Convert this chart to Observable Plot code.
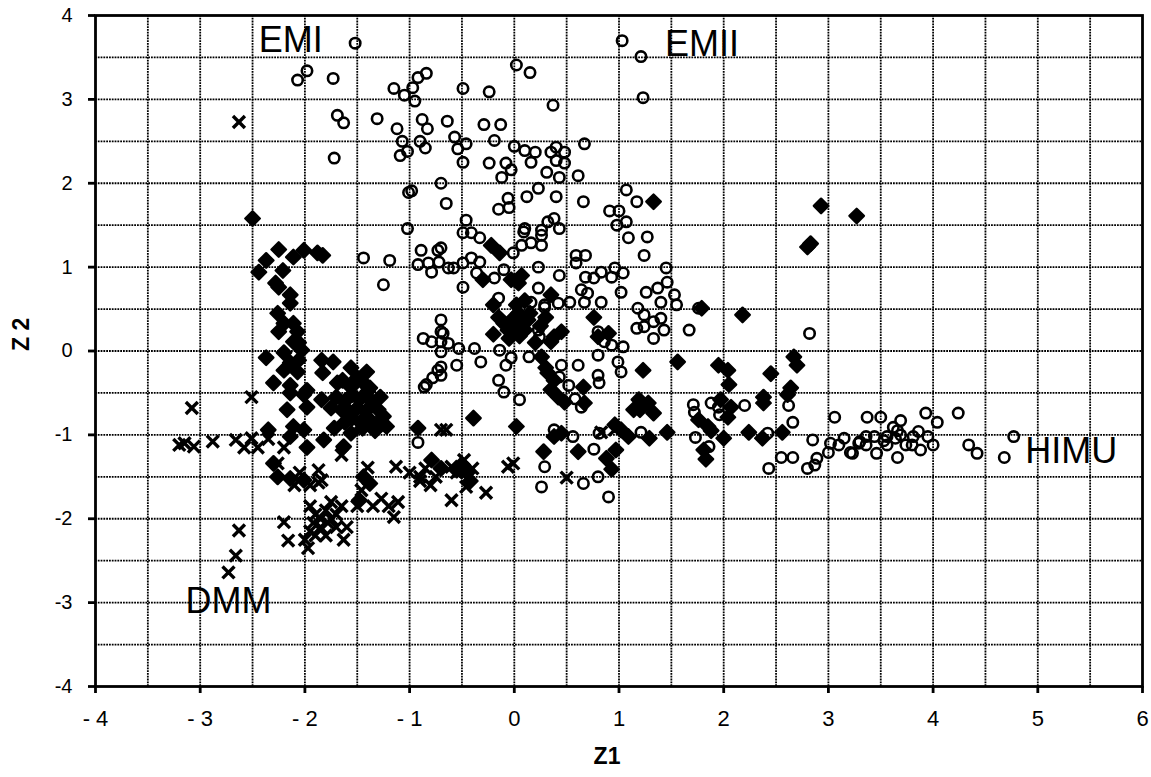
<!DOCTYPE html>
<html><head><meta charset="utf-8">
<script src="https://cdn.jsdelivr.net/npm/d3@7"></script>
<script src="https://cdn.jsdelivr.net/npm/@observablehq/plot@0.6"></script>
<style>body{margin:0;background:#fff}</style>
</head><body><div id="chart"></div>
<script>
// tick values and labels
const xTicks = [-4,-3,-2,-1,0,1,2,3,4,5,6];
const xTickLabels = ["- 4","- 3","- 2","- 1","0","1","2","3","4","5","6"];
const yTicks = [-4,-3,-2,-1,0,1,2,3,4];
const yTickLabels = ["-4","-3","-2","-1","0","1","2","3","4"];
const gridX = [-3.5,-3,-2.5,-2,-1.5,-1,-0.5,0,0.5,1,1.5,2,2.5,3,3.5,4,4.5,5,5.5];
const gridY = [-3.5,-3,-2.5,-2,-1.5,-1,-0.5,0,0.5,1,1.5,2,2.5,3,3.5];

// end-member labels
const labelNames = ["EMI","EMII","HIMU","DMM"];
const labelX = [-2.44, 1.44, 4.88, -3.14];
const labelY = [3.56, 3.52, -1.34, -3.12];

// open circles (Z1, Z2)
const openPts = [
[-1.52,3.67],[-2.07,3.23],[-1.98,3.34],[-1.73,3.25],[-1.69,2.81],[-1.63,2.72],[-1.72,2.30],
[-1.31,2.77],[-1.15,3.13],[-1.05,3.05],[-1.12,2.65],[-1.07,2.50],[-1.02,2.38],[-1.09,2.33],[-0.92,3.26],[-0.84,3.31],[-0.97,3.14],[-0.95,2.98],[-0.88,2.76],[-0.83,2.65],[-0.90,2.50],[-0.85,2.42],
[-0.64,2.74],[-0.29,2.70],[-0.13,2.70],[-0.57,2.55],[-0.54,2.41],[-0.46,2.47],[-0.19,2.51],
[-0.49,3.13],[-0.24,3.09],[0.02,3.41],[0.15,3.32],[0.37,2.93],[0.67,2.47],
[1.03,3.70],[1.21,3.51],[1.23,3.02],
[0.0,2.44],[0.10,2.39],[0.20,2.37],[0.16,2.25],[0.35,2.37],[0.40,2.43],[0.48,2.37],[0.48,2.24],[0.40,2.27],[0.31,2.13],[0.43,2.07],[0.61,2.09],
[-0.08,2.24],[-0.03,2.16],[-0.12,2.07],[-0.24,2.24],[-0.49,2.25],
[-0.70,2.0],[-0.65,1.76],[-1.01,1.89],[-0.98,1.91],[-1.02,1.46],
[-0.06,1.82],[-0.15,1.69],[-0.05,1.71],[0.12,1.84],[0.23,1.94],[0.40,1.84],[0.66,1.78],
[1.07,1.92],[1.17,1.78],[0.91,1.67],[1.0,1.67],[0.98,1.50],[1.07,1.54],[1.09,1.35],[1.27,1.36],
[-0.46,1.56],[-0.49,1.41],[-0.41,1.41],[-0.33,1.35],
[0.10,1.46],[0.26,1.44],[0.32,1.54],[0.38,1.58],[0.43,1.46],[0.09,1.42],[0.26,1.38],
[1.24,1.14],[-0.70,1.23],[-0.41,1.11],[-0.33,1.06],[-0.49,1.05],[-0.58,0.99],[-0.36,0.93],[-0.19,0.87],[-0.10,0.97],[-0.01,1.17],[0.07,1.26],[0.16,1.29],[0.26,1.26],
[-0.49,0.76],[-0.15,0.63],[0.23,1.0],[0.43,0.9],[0.23,0.75],[0.16,0.58],[0.29,0.55],[0.42,0.57],[0.53,0.58],
[0.59,1.14],[0.68,1.14],[0.59,1.05],[0.68,0.88],[0.76,0.87],[0.83,0.94],[0.96,0.99],[1.04,0.93],[0.93,0.88],
[0.64,0.73],[0.70,0.69],[0.83,0.58],[0.67,0.58],[1.02,0.70],
[1.45,0.99],[1.46,0.82],[1.26,0.70],[1.37,0.75],[1.53,0.67],[1.55,0.55],[1.40,0.58],
[1.18,0.51],[1.24,0.43],[1.40,0.39],[1.33,0.35],[1.17,0.27],[1.24,0.29],[1.43,0.25],[1.33,0.15],
[1.76,0.51],[1.67,0.25],[2.82,0.21],
[-0.70,0.37],[-0.70,0.23],[-0.63,0.09],[-0.53,0.03],[-0.38,0.03],[-0.32,-0.13],[-0.55,-0.17],[-0.70,-0.19],[-0.70,-0.29],
[-0.14,0.01],[-0.03,-0.08],[-0.08,-0.17],[-0.15,-0.35],[-0.10,-0.49],[0.05,-0.58],[0.14,-0.07],[0.24,0.17],[0.23,0.25],[0.29,0.52],
[0.45,-0.17],[0.43,-0.31],[0.52,-0.41],[0.61,-0.17],[0.80,-0.05],[0.80,-0.29],[0.81,-0.38],[0.99,-0.13],[1.02,-0.25],[1.04,0.05],[0.86,0.11],[0.80,0.23],[0.93,0.07],
[0.64,-0.67],[0.58,-0.57],[0.38,-0.94],[0.56,-1.02],[0.76,-1.17],[0.81,-0.98],[1.21,-0.97],[0.29,-1.38],[0.26,-1.62],[0.66,-1.58],[0.90,-1.74],[0.80,-1.50],
[1.71,-0.64],[1.88,-0.62],[1.95,-0.67],[1.72,-0.73],[1.96,-0.76],[1.73,-1.03],[1.86,-1.14],
[2.20,-0.65],[2.62,-0.65],[2.66,-0.85],[3.06,-0.79],[2.42,-0.98],[2.85,-1.06],[3.02,-1.10],[3.10,-1.12],[3.15,-1.04],[3.21,-1.21],[3.0,-1.21],[2.55,-1.27],[2.66,-1.27],[2.43,-1.40],[2.80,-1.40],[2.87,-1.36],[2.89,-1.28],
[3.37,-0.79],[3.50,-0.79],[3.69,-0.83],[3.62,-0.91],[3.93,-0.74],[4.04,-0.85],[4.24,-0.74],
[3.30,-1.08],[3.36,-1.02],[3.44,-1.02],[3.36,-1.12],[3.46,-1.22],[3.56,-1.12],[3.56,-1.02],[3.66,-1.27],[3.69,-1.0],[3.74,-1.12],[3.81,-1.02],[3.86,-0.96],[3.95,-1.02],[3.88,-1.18],[4.0,-1.12],[3.80,-1.12],[3.23,-1.22],[3.29,-1.10],[3.53,-1.07],[3.64,-1.04],[3.66,-0.95],
[4.34,-1.12],[4.42,-1.22],[4.68,-1.27],[4.77,-1.02],
[-1.44,1.11],[-1.19,1.08],[-1.25,0.79],[-0.89,1.20],[-0.73,1.20],[-0.92,1.03],[-0.82,1.05],[-0.79,0.94],[-0.72,1.06],[-0.63,0.99],
[-0.68,0.21],[-0.70,0.11],[-0.70,-0.01],[-0.87,0.15],[-0.79,0.11],[-0.73,-0.23],[-0.78,-0.32],[-0.86,-0.43],[-0.84,-0.40],[-0.92,-1.09]
];

// filled symbols
const filledPts = [
[-2.50,1.58],[-2.25,1.21],[-2.37,1.08],[-2.44,0.94],[-2.21,0.96],[-2.28,0.81],[-2.25,0.76],[-2.14,0.67],[-2.11,1.12],[-2.01,1.20],[-1.88,1.17],[-1.83,1.14],
[-2.14,0.57],[-2.26,0.45],[-2.20,0.33],[-2.11,0.33],[-2.07,0.23],[-2.25,0.23],[-2.11,0.11],[-2.06,0.10],[-2.03,0.01],
[-2.37,-0.08],[-2.20,-0.02],[-2.14,-0.14],[-2.06,-0.11],[-2.20,-0.23],[-2.07,-0.25],[-2.30,-0.38],[-2.14,-0.41],[-1.98,-0.47],
[-1.84,-0.11],[-1.73,-0.13],[-1.83,-0.26],[-1.56,-0.20],[-1.64,-0.35],[-1.50,-0.32],[-1.44,-0.38],[-1.41,-0.25],[-1.69,-0.38],[-1.56,-0.43],[-1.38,-0.44],
[-2.14,-0.50],[-2.01,-0.52],[-2.17,-0.70],[-1.98,-0.67],[-1.84,-0.58],
[-1.70,-0.55],[-1.62,-0.60],[-1.55,-0.52],[-1.48,-0.58],[-1.40,-0.55],[-1.35,-0.62],[-1.65,-0.70],[-1.58,-0.72],[-1.50,-0.68],[-1.42,-0.72],[-1.30,-0.70],[-1.25,-0.78],[-1.55,-0.80],[-1.47,-0.85],[-1.38,-0.82],[-1.30,-0.88],[-1.62,-0.85],[-1.75,-0.68],[-1.22,-0.90],[-1.33,-0.95],[-1.45,-0.92],[-1.40,-0.48],[-1.28,-0.55],
[-2.35,-0.94],[-2.11,-0.90],[-2.01,-0.94],[-2.14,-1.02],[-1.98,-1.15],[-1.82,-1.06],[-1.72,-0.92],[-1.56,-0.98],[-1.63,-1.14],
[-2.30,-1.34],[-2.26,-1.50],[-2.14,-1.52],[-2.01,-1.54],[-1.44,-1.50],[-1.38,-1.58],[-1.48,-1.78],
[-0.92,-0.92],[-0.79,-1.30],[-0.70,-1.40],[-0.55,-1.42],[-0.45,-1.45],[-0.50,-1.35],[-0.42,-1.55],
[-0.22,1.26],[-0.14,1.17],[-0.03,0.85],[0.07,0.90],[0.04,0.81],[-0.30,0.85],
[-0.10,0.33],[-0.01,0.39],[0.04,0.45],[-0.06,0.25],[0.07,0.31],[0.13,0.37],[0.0,0.25],[0.10,0.25],[-0.05,0.15],[0.05,0.18],[0.15,0.45],[0.02,0.55],[-0.20,0.20],[-0.15,0.40],[0.20,0.10],[0.25,0.30],[0.30,0.40],[-0.20,0.55],[0.10,0.60],
[0.35,0.67],[0.38,0.17],[0.45,0.23],[0.35,0.11],[0.26,-0.07],[0.32,-0.26],[0.38,-0.35],[0.35,-0.46],[0.48,-0.61],[0.66,-0.43],[0.67,-0.62],[0.76,0.40],[0.90,0.21],[0.80,0.17],[0.30,-0.20],[0.42,-0.55],
[1.23,-0.23],[1.56,-0.13],[1.19,-0.58],[1.20,-0.70],[1.28,-0.62],[1.14,-0.70],[1.33,-0.74],
[-0.39,-0.80],[0.02,-0.90],[0.38,-1.02],[0.45,-0.98],[0.96,-0.88],[1.02,-0.94],[1.09,-1.02],[1.29,-1.04],[1.46,-0.97],
[0.28,-1.20],[0.61,-1.20],[0.88,-1.28],[0.97,-1.18],[0.93,-1.41],
[1.81,-1.18],[1.83,-1.29],[1.95,-0.17],[2.04,-0.23],[2.05,-0.40],[1.76,-0.82],[1.85,-0.90],[2.0,-1.04],[1.97,-0.58],[2.07,-0.67],
[2.80,1.24],[2.83,1.28],[2.93,1.73],[3.27,1.61],[2.18,0.43],[1.79,0.51],[2.67,-0.07],[2.70,-0.17],[2.45,-0.27],[2.64,-0.44],[2.61,-0.52],[2.38,-0.55],[2.38,-0.62],[2.04,-0.79],[2.24,-0.97],[2.37,-1.04],[2.56,-0.97],[1.88,-0.95],
[1.33,1.78]
];

// crosses
const crossPts = [
[-2.63,2.73],[-3.08,-0.68],[-2.51,-0.55],[-3.15,-1.10],[-3.06,-1.14],[-3.20,-1.12],[-2.88,-1.08],[-2.66,-1.06],[-2.58,-1.15],[-2.51,-1.04],[-2.45,-1.15],[-2.20,-1.15],[-2.26,-1.34],[-2.35,-1.05],
[-1.87,-1.42],[-1.84,-1.54],[-1.65,-1.24],[-1.40,-1.39],[-1.13,-1.38],[-1.46,-1.66],[-1.27,-1.76],[-1.11,-1.80],[-1.15,-1.98],[-1.87,-1.57],[-2.20,-2.04],[-2.16,-2.26],[-1.63,-2.25],[-2.63,-2.14],[-2.66,-2.44],[-2.73,-2.64],
[-1.95,-1.85],[-1.90,-1.95],[-1.85,-2.00],[-1.80,-1.90],[-1.75,-2.00],[-1.70,-1.95],[-1.85,-2.10],[-1.95,-2.15],[-2.00,-2.25],[-1.97,-2.35],[-1.70,-2.10],[-1.65,-1.85],[-1.60,-2.10],[-1.80,-2.20],[-1.90,-2.20],[-1.75,-1.80],[-1.78,-2.05],[-1.92,-2.05],
[-0.70,-0.94],[-0.65,-0.94],[-0.48,-1.30],[-0.60,-1.38],[-0.48,-1.42],[-0.06,-1.38],[-0.01,-1.34],[-0.46,-1.62],[-0.27,-1.69],[-0.60,-1.78],[0.50,-1.51],[0.96,-0.94],[0.83,-0.97],
[-1.0,-1.45],[-0.85,-1.40],[-0.75,-1.50],[-0.80,-1.60],[-0.55,-1.45],[-0.40,-1.40],[-0.90,-1.55],
[-2.05,-1.45],[-1.95,-1.60],[-2.10,-1.60],[-1.50,-1.85],[-1.35,-1.85],[-1.20,-1.85],[-0.90,-1.50]
];

const labels = labelNames.map((t,i)=>({t, x:labelX[i], y:labelY[i]}));
const font = "'Liberation Sans', Arial, Helvetica, sans-serif";
const gridStyle = {stroke:"black", strokeWidth:1.8, strokeDasharray:"1.8,1"};

const chart = Plot.plot({
  width:1151, height:777,
  marginLeft:95, marginRight:9, marginTop:15, marginBottom:91,
  style:{fontFamily:font, background:"white", color:"black", overflow:"visible"},
  x:{domain:[-4,6]},
  y:{domain:[-4,4]},
  marks:[
    Plot.ruleX(gridX, gridStyle),
    Plot.ruleY(gridY, gridStyle),
    Plot.frame({stroke:"black", strokeWidth:2.8}),
    Plot.axisX(xTicks, {tickSize:7, strokeWidth:2.8, label:null, tickFormat:()=>""}),
    Plot.axisY(yTicks, {tickSize:7, strokeWidth:2.8, label:null, tickFormat:()=>""}),
    Plot.text(xTicks, {x:d=>d, text:d=>xTickLabels[xTicks.indexOf(d)], frameAnchor:"bottom", lineAnchor:"middle", dy:32, fontSize:22, fill:"black"}),
    Plot.text(yTicks, {y:d=>d, text:d=>yTickLabels[yTicks.indexOf(d)], frameAnchor:"left", textAnchor:"end", dx:-23, fontSize:20, fill:"black"}),
    Plot.text(["Z1"], {frameAnchor:"bottom", dx:-12, dy:77, fontWeight:"bold", fontSize:23, fill:"black"}),
    Plot.text(["Z 2"], {frameAnchor:"left", dx:-74, rotate:-90, fontWeight:"bold", fontSize:23, fill:"black"}),
    Plot.dot(openPts, {x:d=>d[0], y:d=>d[1], r:5.2, stroke:"black", strokeWidth:2.6, fill:"none"}),
    Plot.dot(filledPts, {x:d=>d[0], y:d=>d[1], symbol:"diamond2", r:6.5, fill:"black", stroke:"black", strokeWidth:2.4, strokeLinejoin:"round"}),
    Plot.dot(crossPts, {x:d=>d[0], y:d=>d[1], symbol:"times", r:5.5, stroke:"black", strokeWidth:3.4}),
    Plot.text(labels, {x:"x", y:"y", text:"t", textAnchor:"start", lineAnchor:"bottom", fontSize:36, fill:"black"})
  ]
});
document.getElementById("chart").appendChild(chart);
</script>
</body></html>
